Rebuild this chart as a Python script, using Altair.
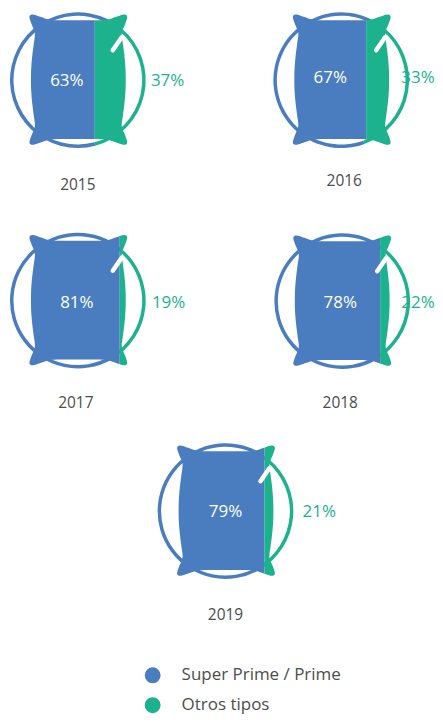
import altair as alt
import pandas as pd
import math

# --- values
years = ["2015", "2016", "2017", "2018", "2019"]
prime = [63, 67, 81, 78, 79]
otros = [37, 33, 19, 22, 21]
series = ["Super Prime / Prime", "Otros tipos"]

# --- colours and layout (page pixels)
BLUE, GREEN, INK = "#4a7dbf", "#1db28e", "#4d4d4d"
FONT = "Open Sans"
W, H = 427, 707
ring_x = [78, 342, 78, 343, 226]
ring_y = [79.5, 79.5, 300.5, 301, 511.5]
pillow_x = [78.5, 342.5, 78.5, 343, 226.5]
pillow_y = [79, 79, 300, 300.5, 511]
split_x = [95, 367, 120, 381, 265]          # seam blue/green
green_end = [165, 160, 150, 150, 150]       # ring angle where green stops (deg)
GREEN_START = 40
in_x = [67, 331, 77, 341, 226]
out_x = [168, 419, 169, 419, 320]
lab_y = [80, 77, 303, 303, 512]
year_x = [78, 345, 76, 341, 226]
year_y = [185, 181, 403, 403, 616]
legend_y = [676, 706]

# --- pillow glyph: top-right quadrant, relative to pillow centre
quad = [(0, -59.5), (15, -59.5), (28, -60), (38, -63), (44, -65), (47.5, -65),
        (49, -62.5), (47, -56), (44.5, -50), (43.5, -45), (44.8, -35), (46.4, -22), (47.3, -10), (47.5, 0)]
ctrl = quad + [(x, -y) for x, y in reversed(quad[:-1])]
ctrl = ctrl + [(-x, y) for x, y in reversed(ctrl[1:-1])]


def smooth(points, steps=6):
    out, n = [], len(points)
    for i in range(n):
        p0, p1, p2, p3 = (points[(i + k - 1) % n] for k in range(4))
        for s in range(steps):
            t = s / steps
            out.append(tuple(
                0.5 * (2 * p1[a] + (p2[a] - p0[a]) * t
                       + (2 * p0[a] - 5 * p1[a] + 4 * p2[a] - p3[a]) * t * t
                       + (3 * p1[a] - p0[a] - 3 * p2[a] + p3[a]) * t ** 3)
                for a in (0, 1)))
    return out


outline = smooth(ctrl)


def clip(poly, cut, keep_left):
    res = []
    inside = (lambda p: p[0] <= cut) if keep_left else (lambda p: p[0] >= cut)
    for i, a in enumerate(poly):
        b = poly[(i + 1) % len(poly)]
        if inside(a):
            res.append(a)
        if inside(a) != inside(b):
            t = (cut - a[0]) / (b[0] - a[0])
            res.append((cut, a[1] + t * (b[1] - a[1])))
    return res


UNIT = 50  # px per path unit => size = (2*UNIT)^2


def to_path(poly):
    return "M" + "L".join(f"{x / UNIT:.4f},{y / UNIT:.4f}" for x, y in poly) + "Z"


pillow_rows, ring_rows, tick_rows, pct_rows, year_rows = [], [], [], [], []
for i, yr in enumerate(years):
    cut = split_x[i] - pillow_x[i]
    for ser, left in ((series[0], True), (series[1], False)):
        pillow_rows.append(dict(x=pillow_x[i], y=pillow_y[i], s=ser,
                                path=to_path(clip(outline, cut, left))))
    g0, g1 = math.radians(GREEN_START), math.radians(green_end[i])
    ring_rows.append(dict(x=ring_x[i], y=ring_y[i], s=series[0], a=g1, b=g0 + 2 * math.pi))
    ring_rows.append(dict(x=ring_x[i], y=ring_y[i], s=series[1], a=g0, b=g1))
    tick_rows.append(dict(x=ring_x[i] + 35, y=ring_y[i] - 30, x2=ring_x[i] + 44, y2=ring_y[i] - 43))
    pct_rows.append(dict(x=in_x[i], y=lab_y[i], t=f"{prime[i]}%", c="#ffffff"))
    pct_rows.append(dict(x=out_x[i], y=lab_y[i], t=f"{otros[i]}%", c=GREEN))
    year_rows.append(dict(x=year_x[i], y=year_y[i], t=yr))

xs = alt.Scale(domain=[8, 8 + W], range=[0, W], nice=False, zero=False)
ys = alt.Scale(domain=[8, 8 + H], range=[0, H], nice=False, zero=False)
X = alt.X("x:Q", axis=None, scale=xs)
Y = alt.Y("y:Q", axis=None, scale=ys)
colour = alt.Color("s:N", legend=None, scale=alt.Scale(domain=series, range=[BLUE, GREEN]))

rings = alt.Chart(pd.DataFrame(ring_rows)).mark_arc(radius=68, radius2=64.5).encode(
    x=X, y=Y, color=colour,
    theta=alt.Theta("a:Q", scale=None), theta2=alt.Theta2("b:Q"))

pillows = alt.Chart(pd.DataFrame(pillow_rows)).mark_point(
    filled=True, opacity=1, strokeWidth=0, size=(2 * UNIT) ** 2
).encode(x=X, y=Y, color=colour, shape=alt.Shape("path:N", scale=None))

ticks = alt.Chart(pd.DataFrame(tick_rows)).mark_rule(
    color="white", strokeWidth=4.5, strokeCap="round"
).encode(x=X, y=Y, x2="x2:Q", y2="y2:Q")

labels = alt.Chart(pd.DataFrame(pct_rows)).mark_text(
    font=FONT, fontSize=17, align="center", baseline="middle"
).encode(x=X, y=Y, text="t:N", color=alt.Color("c:N", scale=None))

year_labels = alt.Chart(pd.DataFrame(year_rows)).mark_text(
    font=FONT, fontSize=15.5, align="center", baseline="middle", color=INK
).encode(x=X, y=Y, text="t:N")

leg = pd.DataFrame(dict(x=[153, 153], tx=[182, 182], y=legend_y, s=series))
legend_dots = alt.Chart(leg).mark_point(filled=True, opacity=1, size=254, shape="circle").encode(
    x=X, y=Y, color=colour)
legend_text = alt.Chart(leg).mark_text(
    font=FONT, fontSize=17, align="left", baseline="middle", color=INK
).encode(x=alt.X("tx:Q", axis=None, scale=xs), y=Y, text="s:N")

chart = alt.layer(rings, pillows, ticks, labels, year_labels, legend_dots, legend_text).properties(
    width=W, height=H, padding=0
).configure_view(stroke=None)

chart.save("out.html", embed_options={"renderer": "svg", "actions": False})
